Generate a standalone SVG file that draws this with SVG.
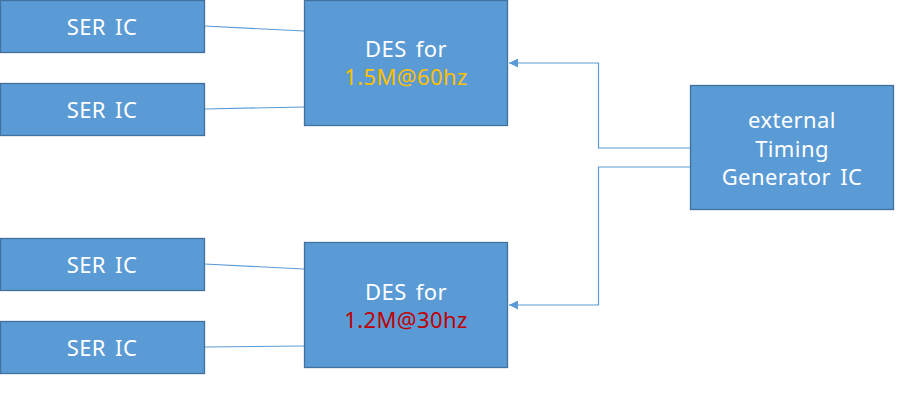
<svg xmlns="http://www.w3.org/2000/svg" width="908" height="400" viewBox="0 0 908 400">
<style>
.box{fill:#5B9BD5;stroke:#41719C;stroke-width:1.3}
.t{font-family:"Noto Sans","Open Sans","Liberation Sans",sans-serif;font-size:22px;fill:#FFFFFF;text-anchor:middle;word-spacing:3px;letter-spacing:0.4px}
.c{fill:none;stroke:#5B9BD5;stroke-width:1.2}
</style>
<defs>
<marker id="arr" viewBox="0 0 10 10" refX="10" refY="5" markerWidth="9" markerHeight="9" markerUnits="userSpaceOnUse" orient="auto">
<path d="M0,0 L10,5 L0,10 z" fill="#5B9BD5"/>
</marker>
</defs>
<rect width="908" height="400" fill="#FFFFFF"/>
<g id="connectors">
<line class="c" x1="204" y1="26" x2="304" y2="31"/>
<line class="c" x1="204" y1="109" x2="304" y2="107"/>
<line class="c" x1="204" y1="264" x2="304" y2="269"/>
<line class="c" x1="204" y1="347" x2="304" y2="346"/>
<path class="c" d="M690,148 H598.5 V63 H509" marker-end="url(#arr)"/>
<path class="c" d="M690,167 H598.5 V305 H509" marker-end="url(#arr)"/>
</g>
<g id="ser1"><rect class="box" x="0.5" y="0.5" width="204" height="52"/><text class="t" x="102" y="35">SER IC</text></g>
<g id="ser2"><rect class="box" x="0.5" y="83.5" width="204" height="52"/><text class="t" x="102" y="118">SER IC</text></g>
<g id="ser3"><rect class="box" x="0.5" y="238.5" width="204" height="52"/><text class="t" x="102" y="273">SER IC</text></g>
<g id="ser4"><rect class="box" x="0.5" y="321.5" width="204" height="52"/><text class="t" x="102" y="356">SER IC</text></g>
<g id="des1"><rect class="box" x="304.5" y="0.5" width="203" height="125"/>
<text class="t" x="406" y="57">DES for</text>
<text class="t" x="406" y="85" style="fill:#FFC000">1.5M@60hz</text></g>
<g id="des2"><rect class="box" x="304.5" y="242.5" width="203" height="125"/>
<text class="t" x="406" y="300">DES for</text>
<text class="t" x="406" y="328" style="fill:#C00000">1.2M@30hz</text></g>
<g id="timing"><rect class="box" x="690.5" y="85.5" width="203" height="124"/>
<text class="t" x="792" y="128">external</text>
<text class="t" x="792" y="157">Timing</text>
<text class="t" x="792" y="185">Generator IC</text></g>
</svg>
